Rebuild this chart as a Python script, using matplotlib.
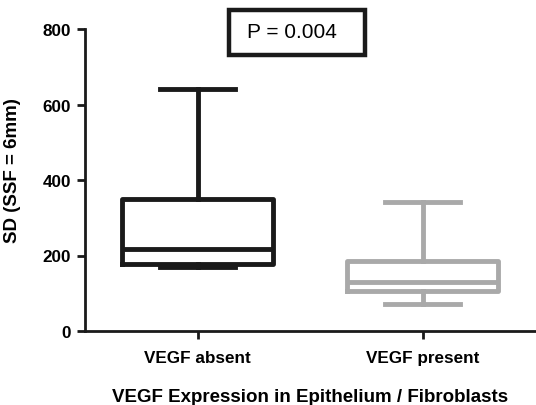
import matplotlib.pyplot as plt
from matplotlib.patches import Rectangle

plt.rcParams['font.family'] = ['Liberation Sans', 'DejaVu Sans']

groups = ["VEGF absent", "VEGF present"]
whisker_low = [170, 72]
q1 = [177, 106]
median = [217, 130]
q3 = [349, 185]
whisker_high = [641, 342]
colors = ["#1a1a1a", "#a9a9a9"]
p_text = "P = 0.004"

fig = plt.figure(figsize=(5.36, 4.06), dpi=100)
ax = fig.add_axes([85 / 536, 1 - 332 / 406, (535 - 85) / 536, (332 - 30) / 406])

for i, name in enumerate(groups):
    stats = [{
        "label": name, "whislo": whisker_low[i], "q1": q1[i], "med": median[i],
        "q3": q3[i], "whishi": whisker_high[i], "fliers": [],
    }]
    c = colors[i]
    ax.bxp(stats, positions=[i + 1], widths=0.67, showfliers=False,
           boxprops=dict(color=c, linewidth=3.5),
           medianprops=dict(color=c, linewidth=3.5, solid_capstyle="butt"),
           whiskerprops=dict(color=c, linewidth=3.5),
           capprops=dict(color=c, linewidth=3.5),
           capwidths=0.33)

ax.set_xlim(0.5, 2.5)
ax.set_ylim(0, 800)
ax.set_yticks([0, 200, 400, 600, 800])
ax.set_xticks([1, 2])
ax.set_xticklabels(groups, fontsize=12.3, fontweight="bold")
for lab in ax.get_yticklabels():
    lab.set_fontsize(12.3)
    lab.set_fontweight("bold")

for s in ["top", "right"]:
    ax.spines[s].set_visible(False)
for s in ["left", "bottom"]:
    ax.spines[s].set_linewidth(2)
    ax.spines[s].set_color("#1a1a1a")
ax.tick_params(axis="both", width=2, length=6, color="#1a1a1a", pad=4)
ax.tick_params(axis="x", pad=8)

ax.set_ylabel("SD (SSF = 6mm)", fontsize=13.5, fontweight="bold")
ax.yaxis.set_label_coords(-64 / 450, 0.536)
ax.set_xlabel("VEGF Expression in Epithelium / Fibroblasts", fontsize=13.5,
              fontweight="bold", labelpad=16.5)

# P-value box
fig.patches.append(Rectangle((229 / 536, 1 - 56 / 406), 136 / 536, 45 / 406,
                             transform=fig.transFigure, facecolor="white",
                             edgecolor="#1a1a1a", linewidth=3.2))
fig.text(292 / 536, 1 - 33 / 406, p_text, fontsize=15, ha="center", va="center")

fig.savefig("out.png", dpi=100)
